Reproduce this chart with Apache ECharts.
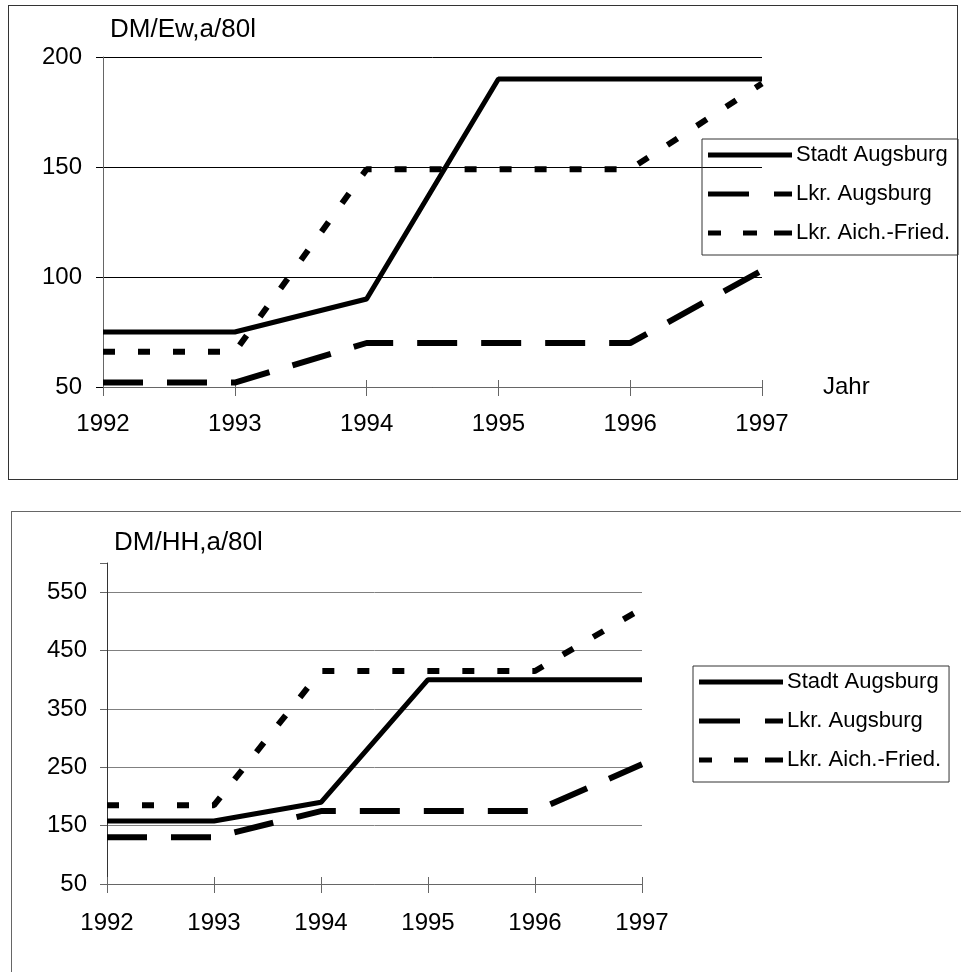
<!DOCTYPE html>
<html>
<head>
<meta charset="utf-8">
<script src="https://cdn.jsdelivr.net/npm/echarts@6/dist/echarts.min.js"></script>
<style>
  html, body { margin: 0; padding: 0; background: #fff; }
  .box { position: absolute; box-sizing: border-box; }
  #box1 { left: 8px; top: 5px; width: 950px; height: 475px; border: 1px solid #333; }
  #box2 { left: 11px; top: 511px; width: 960px; height: 480px; border: 1px solid #666; }
  #chart { position: absolute; left: 0; top: 0; width: 961px; height: 972px; }
</style>
</head>
<body>
<div id="box1" class="box"></div>
<div id="box2" class="box"></div>
<div id="chart"></div>
<script>
// Jahre
const years = ['1992', '1993', '1994', '1995', '1996', '1997']
const seriesNames = ['Stadt Augsburg', 'Lkr. Augsburg', 'Lkr. Aich.-Fried.']

// oben: DM je Einwohner und Jahr, 80l
const ewStadt = [75, 75, 90, 190, 190, 190]
const ewLkr = [52, 52, 70, 70, 70, 103]
const ewAich = [66, 66, 149, 149, 149, 188]

// unten: DM je Haushalt und Jahr, 80l
const hhStadt = [158, 158, 190, 400, 400, 400]
const hhLkr = [130, 130, 175, 175, 175, 255]
const hhAich = [185, 185, 415, 415, 415, 522]

const font = 'Liberation Sans, Arial, sans-serif'
const styles = [
  { width: 5, type: 'solid' },
  { width: 6, type: [40, 24] },
  { width: 6, type: [12, 23] }
]
// Legendensymbole wie im Original (Strichmuster als Pfad)
const legendIcons = [
  'path://M0,0H84V5H0Z',
  'path://M0,0H41V5H0Z M66,0H84V5H66Z',
  'path://M0,0H13V5H0Z M35,0H49V5H35Z M66,0H84V5H66Z'
]

const makeSeries = (values, axisIndex) => values.map((data, i) => ({
  name: seriesNames[i],
  type: 'line',
  xAxisIndex: axisIndex,
  yAxisIndex: axisIndex,
  data: data,
  symbol: 'none',
  silent: true,
  lineStyle: { color: '#000', width: styles[i].width, type: styles[i].type, cap: 'butt' },
  itemStyle: { color: '#000' },
  z: 3 - i
}))

const makeLegend = (left, top) => ({
  data: seriesNames.map((name, i) => ({ name: name, icon: legendIcons[i] })),
  orient: 'vertical',
  left: left,
  top: top,
  itemWidth: 84,
  itemHeight: 5,
  itemGap: 17,
  symbolKeepAspect: false,
  padding: [5, 8, 11, 6],
  borderColor: '#333',
  borderWidth: 1,
  selectedMode: false,
  itemStyle: { color: '#000', borderWidth: 0 },
  textStyle: { fontFamily: font, fontSize: 22, color: '#000', padding: [0, 0, 0, -1] }
})

const xAxisBase = (gridIndex, labelMargin) => ({
  type: 'category',
  gridIndex: gridIndex,
  data: years,
  boundaryGap: false,
  axisLine: { lineStyle: { color: '#666', width: 1 } },
  axisTick: { show: true, length: 9, lineStyle: { color: '#666' } },
  axisLabel: { fontFamily: font, fontSize: 24, color: '#000', margin: labelMargin },
  splitLine: { show: false }
})

// innere Tickhälfte, damit die Striche die Achse kreuzen
const xAxisInner = (gridIndex) => ({
  type: 'category',
  gridIndex: gridIndex,
  data: years,
  boundaryGap: false,
  position: 'bottom',
  axisLine: { show: false },
  axisTick: { show: true, inside: true, length: 7, lineStyle: { color: '#666' } },
  axisLabel: { show: false },
  splitLine: { show: false }
})

const chart = echarts.init(document.getElementById('chart'), null, { renderer: 'canvas' })

const option = {
  animation: false,
  backgroundColor: 'transparent',
  grid: [
    { left: 103, top: 57, width: 659, height: 330 },
    { left: 107, top: 563, width: 535, height: 321 }
  ],
  legend: [
    makeLegend(702, 139),
    makeLegend(693, 666)
  ],
  xAxis: [
    Object.assign(xAxisBase(0, 25), {
      name: 'Jahr',
      nameLocation: 'end',
      nameGap: 61,
      nameTextStyle: { fontFamily: font, fontSize: 24, color: '#000', align: 'left', verticalAlign: 'middle' }
    }),
    xAxisBase(1, 27),
    xAxisInner(0),
    xAxisInner(1)
  ],
  yAxis: [
    {
      type: 'value',
      gridIndex: 0,
      min: 50,
      max: 200,
      interval: 50,
      name: 'DM/Ew,a/80l',
      nameLocation: 'end',
      nameGap: 27,
      nameTextStyle: { fontFamily: font, fontSize: 26, color: '#000', align: 'left', verticalAlign: 'middle', padding: [0, 0, 0, 7] },
      axisLine: { show: true, lineStyle: { color: '#666' } },
      axisTick: { show: true, length: 7, lineStyle: { color: '#000' } },
      axisLabel: { fontFamily: font, fontSize: 24, color: '#000', margin: 21 },
      splitLine: { show: true, lineStyle: { color: '#000', width: 1 } }
    },
    {
      type: 'value',
      gridIndex: 1,
      min: 50,
      max: 600,
      interval: 100,
      name: 'DM/HH,a/80l',
      nameLocation: 'end',
      nameGap: 20,
      nameTextStyle: { fontFamily: font, fontSize: 26, color: '#000', align: 'left', verticalAlign: 'middle', padding: [0, 0, 0, 7] },
      axisLine: { show: true, lineStyle: { color: '#333' } },
      axisTick: { show: true, length: 7, lineStyle: { color: '#666' } },
      axisLabel: {
        fontFamily: font, fontSize: 24, color: '#000', margin: 20,
        formatter: (v) => (v > 550 ? '' : String(v))
      },
      splitLine: {
        show: true,
        lineStyle: { color: ['#808080', '#808080', '#808080', '#808080', '#808080', '#808080', 'rgba(0,0,0,0)'], width: 1 }
      }
    }
  ],
  series: [
    ...makeSeries([ewStadt, ewLkr, ewAich], 0),
    ...makeSeries([hhStadt, hhLkr, hhAich], 1)
  ]
}

chart.setOption(option)
</script>
</body>
</html>
